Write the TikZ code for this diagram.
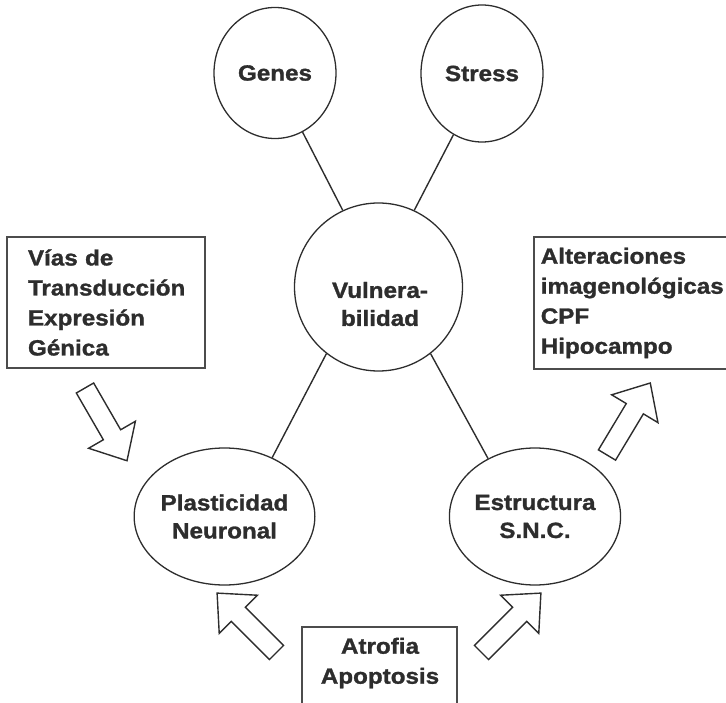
\documentclass[tikz,border=0pt]{standalone}
\usepackage{fontspec}
\setmainfont{Liberation Sans}[FakeStretch=1.1, BoldFeatures={FakeBold=1.3}]
\usetikzlibrary{shapes.geometric}
\definecolor{InkGray}{RGB}{45,45,45}
\tikzset{
	lbl/.style={font=\fontsize{22}{28}\selectfont\bfseries, text=InkGray, align=center},
	oval/.style={lbl, draw=InkGray, line width=1.3pt, ellipse, inner sep=0pt},
	box/.style={font=\fontsize{22}{30}\selectfont\bfseries, text=InkGray, draw=InkGray!85, line width=1.6pt, rectangle, align=left},
	link/.style={draw=InkGray, line width=1.4pt},
	fatarrow/.pic={\draw[InkGray, line width=1.4pt, line join=miter] (0,-10) -- (54,-10) -- (54,-27) -- (84,0) -- (54,27) -- (54,10) -- (0,10) -- cycle;}
}

\begin{document}
\begin{tikzpicture}[x=1pt, y=-1pt]
		\useasboundingbox (0,0) rectangle (726,703);
		\node[oval, minimum width=122, minimum height=131] (genes) at (275,73) {Genes};
		\node[oval, minimum width=122, minimum height=137] (stress) at (482,73.5) {Stress};
		\node[oval, circle, minimum size=168] (vuln) at (378.5,287) {};
		\node[lbl] (vulntext) at (380,304) {Vulnera-\\bilidad};
		\node[oval, minimum width=159, minimum height=137] (plast) at (224.5,516.5) {Plasticidad\\Neuronal};
		\node[oval, minimum width=160, minimum height=137] (estr) at (535,516.5) {Estructura\\S.N.C.};
		\node[box, text width=156, inner xsep=21, minimum height=131] (vias) at (106,302.5) {Vías de\\Transducción\\Expresión\\Génica};
		\node[box, anchor=west, text width=200, inner xsep=7, minimum height=132] (alter) at (533,303) {Alteraciones\\imagenológicas\\CPF\\Hipocampo};
		\node[box, anchor=north, minimum width=155, minimum height=120] (atrofiabox) at (379.5,626) {};
		\node[lbl, font=\fontsize{22}{30}\selectfont\bfseries] (atrofia) at (380,663) {Atrofia\\Apoptosis};
		\draw[link] (genes.295) -- (vuln.115);
		\draw[link] (stress.245) -- (vuln.65);
		\draw[link] (plast.51) -- (vuln.232);
		\draw[link] (estr.129) -- (vuln.308);
		\pic[rotate=-60] at (85,388) {fatarrow};
		\pic[rotate=59] at (607,455) {fatarrow};
		\pic[rotate=135] at (276.5,652.5) {fatarrow};
		\pic[rotate=45] at (481.5,652.5) {fatarrow};
	\end{tikzpicture}
\end{document}
